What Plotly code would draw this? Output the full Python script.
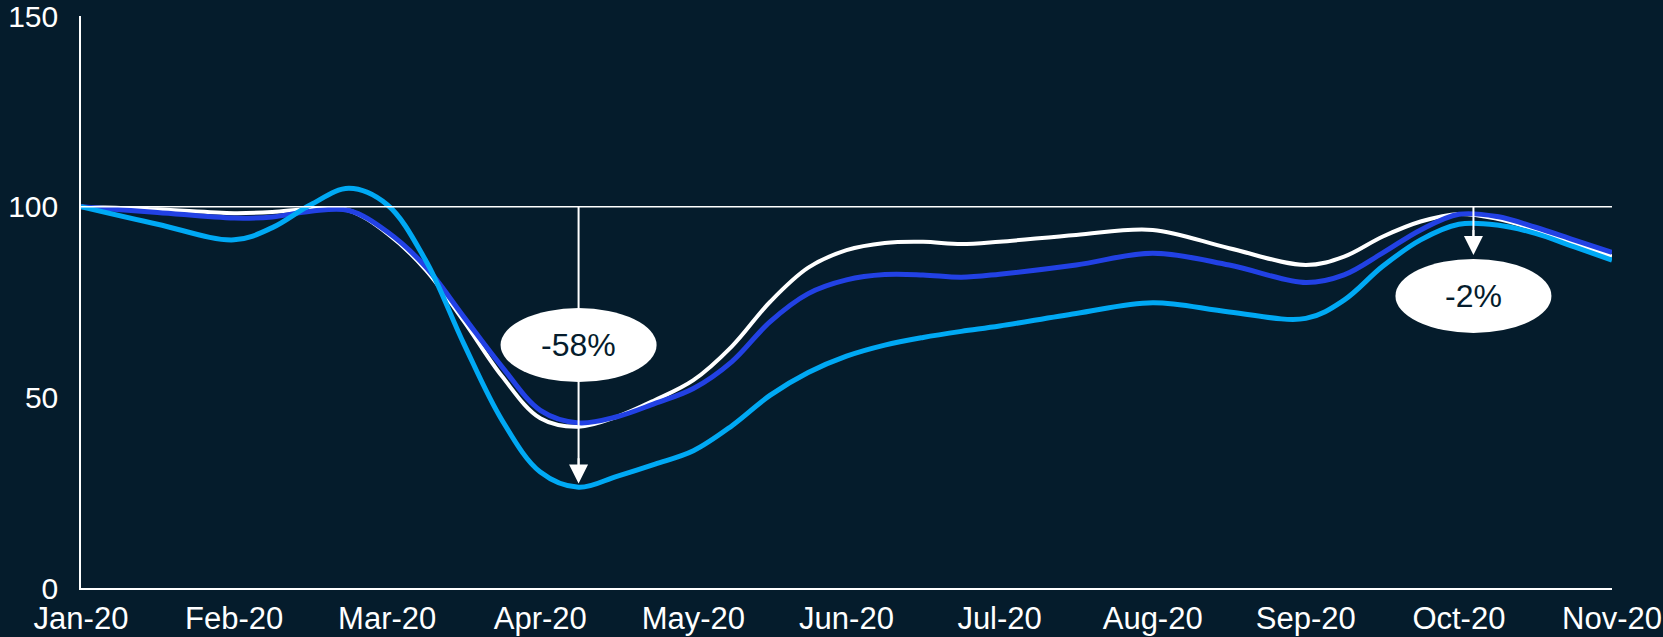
import plotly.graph_objects as go

# Month positions (0 = Jan-20 ... 10 = Nov-20), sampled at half/quarter months
month_pos = [0, 0.5, 1, 1.25, 1.5, 1.75, 2, 2.25, 2.5, 2.75, 3, 3.25, 3.5, 3.75,
             4, 4.25, 4.5, 4.75, 5, 5.25, 5.5, 5.75, 6, 6.5, 7, 7.5, 8, 8.25,
             8.5, 8.75, 9, 9.25, 9.5, 9.75, 10]

series_white = [100, 99.3, 98.3, 98.6, 99.4, 99.0, 93.0, 83.5, 70.0, 55.5, 44.5, 42.3,
                44.9, 49.3, 54.5, 63.3, 75.0, 84.0, 88.6, 90.5, 90.8, 90.2, 90.8,
                92.6, 93.9, 89.1, 84.7, 86.9, 92.1, 96.1, 98.1, 96.8, 94.0, 90.5, 87.0]

series_blue = [100, 98.5, 97.0, 97.3, 98.8, 99.0, 93.4, 84.3, 71.1, 58.0, 46.6, 43.3,
               44.9, 48.4, 52.3, 59.3, 69.8, 77.2, 80.8, 82.2, 82.1, 81.5, 82.3,
               84.7, 87.8, 84.7, 80.1, 82.1, 87.8, 93.9, 98.0, 97.4, 94.6, 91.3, 88.0]

series_cyan = [100, 95.4, 91.3, 94.5, 100.5, 104.8, 100.5, 86.0, 64.1, 44.0, 30.4, 26.4,
               29.3, 32.5, 36.0, 42.5, 50.5, 56.5, 60.8, 63.7, 65.7, 67.3, 68.7,
               72.0, 74.8, 72.4, 70.7, 75.5, 84.3, 91.3, 95.4, 95.2, 93.0, 89.5, 86.0]

tick_pos = list(range(11))
tick_labels = ["Jan-20", "Feb-20", "Mar-20", "Apr-20", "May-20", "Jun-20",
               "Jul-20", "Aug-20", "Sep-20", "Oct-20", "Nov-20"]
y_ticks = [0, 50, 100, 150]

baseline = 100
# Callouts: position, arrow tip value, label centre value, label
callouts = [
    {"x": 3.25, "tip": 27.4, "label_y": 63.7, "text": "-58%"},
    {"x": 9.095, "tip": 87.3, "label_y": 76.6, "text": "-2%"},
]

BG = "#051c2c"
WHITE = "#ffffff"
BLUE = "#2241e4"
CYAN = "#00a9f4"
FONT = "Arial, Liberation Sans, sans-serif"

fig = go.Figure()
for ys, col, w in [(series_white, WHITE, 4), (series_blue, BLUE, 5), (series_cyan, CYAN, 5)]:
    fig.add_trace(go.Scatter(
        x=month_pos, y=ys, mode="lines",
        line=dict(color=col, width=w, shape="spline", smoothing=1.0),
        hoverinfo="skip", showlegend=False,
    ))

shapes = [dict(type="line", xref="x", yref="y", x0=0, x1=10, y0=baseline, y1=baseline,
               line=dict(color=WHITE, width=1.5), layer="above")]
annotations = []
for c in callouts:
    # arrow shaft from the baseline down to the tip
    shapes.append(dict(type="line", xref="x", yref="y", x0=c["x"], x1=c["x"],
                       y0=baseline, y1=c["tip"] + 2, line=dict(color=WHITE, width=2),
                       layer="above"))
for c in callouts:
    # oval label
    shapes.append(dict(type="circle", xref="x", yref="y", xsizemode="pixel",
                       ysizemode="pixel", xanchor=c["x"], yanchor=c["label_y"],
                       x0=-78, x1=78, y0=-37, y1=37,
                       fillcolor=WHITE, line=dict(color=WHITE, width=0), layer="above"))
    annotations.append(dict(x=c["x"], y=c["label_y"], xref="x", yref="y", text=c["text"],
                            showarrow=False, font=dict(family=FONT, size=32, color=BG)))
    # arrow head
    annotations.append(dict(x=c["x"], y=c["tip"], xref="x", yref="y",
                            ax=c["x"], ay=c["tip"] + 7, axref="x", ayref="y", text="",
                            showarrow=True, arrowhead=2, arrowsize=1.9, arrowwidth=2,
                            arrowcolor=WHITE, standoff=0))

fig.update_layout(
    width=1663, height=637,
    margin=dict(l=81, r=51, t=16, b=49),
    paper_bgcolor=BG, plot_bgcolor=BG,
    font=dict(family=FONT, color=WHITE, size=30),
    shapes=shapes, annotations=annotations,
    showlegend=False,
)
fig.update_xaxes(range=[0, 10], tickvals=tick_pos, ticktext=tick_labels,
                 showgrid=False, zeroline=False, showline=True, linecolor=WHITE,
                 linewidth=1.5, ticks="", tickfont=dict(size=31, color=WHITE),
                 ticklabelstandoff=2, automargin=False, ticklabeloverflow="allow")
fig.update_yaxes(range=[0, 150], tickvals=y_ticks, showgrid=False, zeroline=False,
                 showline=True, linecolor=WHITE, linewidth=1.5, ticks="",
                 tickfont=dict(size=30, color=WHITE), ticklabelstandoff=15,
                 automargin=False, ticklabeloverflow="allow")

fig.write_html("out.html")
